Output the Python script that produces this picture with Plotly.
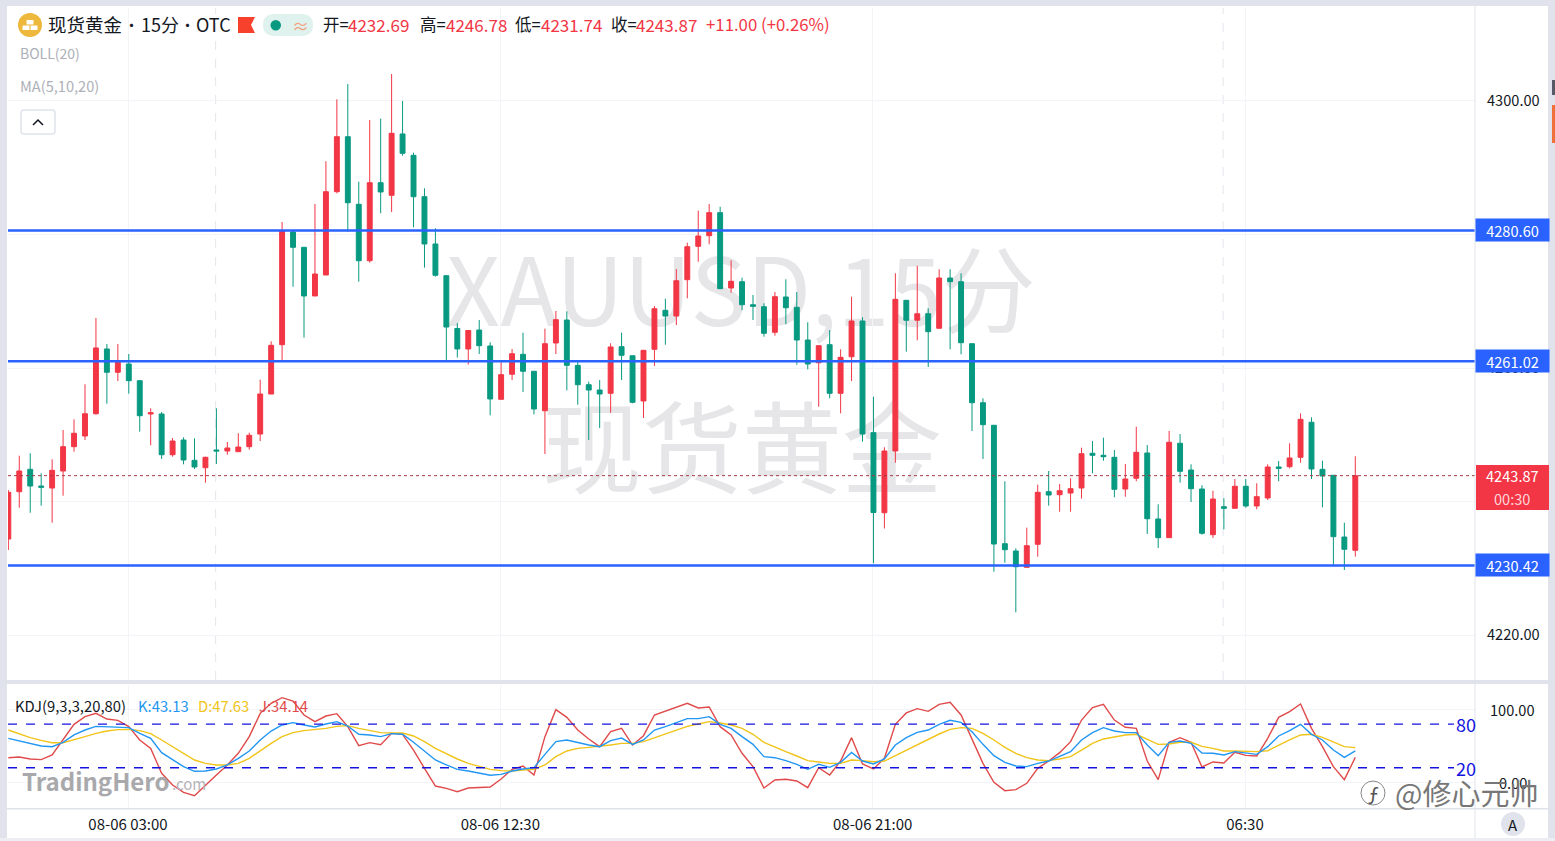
import plotly.graph_objects as go

W, H = 1555, 841
FONT = "Noto Sans CJK SC"
RED = "#F23645"
GREEN = "#089981"
BLUE = "#2962FF"
FRAME = "#E0E3EB"
GRID = "#F3F4F7"

first_bar = -11
opens = [4234.38,4241.47,4244.82,4242.32,4242.02,4244.57,4248.21,4249.81,4253.15,4262.85,
 4259.36,4260.6,4258.1,4253.11,4253.11,4247.01,4249.21,4246.17,4245.06,4247.72,
 4247.57,4247.46,4248.21,4250.11,4256.1,4263.49,4280.37,4278.08,4270.79,4273.93,
 4286.41,4294.65,4284.52,4276.07,4287.76,4285.87,4295.06,4291.86,4285.66,4278.58,
 4273.83,4265.92,4262.85,4265.69,4263.3,4255.31,4259.06,4262.05,4259.51,4253.6,
 4263.75,4267.19,4260.4,4257.5,4256.7,4256.21,4263.19,4261.84,4255.06,4262.8,
 4268.64,4267.79,4273.23,4278.23,4279.82,4283.27,4271.98,4272.93,4269.48,4269.18,
 4265.35,4270.64,4269.09,4264.19,4260.79,4263.49,4256.21,4261.69,4267.04,4250.31,
 4238.32,4247.57,4270.14,4267.16,4268.13,4265.95,4273.48,4272.93,4263.64,4254.8,
 4251.42,4233.68,4232.58,4230.14,4233.59,4241.47,4241.02,4241.27,4242.02,4247.22,
 4246.92,4246.62,4241.87,4243.48,4247.27,4237.38,4234.58,4248.72,4244.72,4241.87,
 4235.03,4239.22,4238.98,4242.28,4239.33,4240.53,4245.17,4245.21,4246.62,4251.87,
 4244.82,4243.93,4234.68,4232.69]
highs = [4241.72,4246.86,4247.22,4244.23,4246.32,4250.71,4252.31,4257.56,4267.49,4263.6,
 4263.6,4262.1,4258.1,4253.96,4253.41,4249.51,4249.62,4249.47,4246.71,4253.96,
 4248.91,4250.22,4250.31,4258.25,4264.0,4281.87,4280.57,4278.08,4284.57,4290.97,
 4300.25,4302.55,4287.91,4297.15,4297.35,4304.04,4300.0,4292.25,4286.92,4280.93,
 4273.89,4266.74,4265.69,4267.19,4263.85,4260.94,4262.85,4265.29,4259.51,4265.89,
 4268.54,4268.49,4260.94,4257.95,4258.2,4263.7,4265.29,4261.84,4262.7,4269.29,
 4270.38,4274.83,4278.77,4283.57,4284.57,4284.16,4276.13,4273.53,4270.94,4269.69,
 4271.39,4273.29,4271.39,4266.85,4263.4,4265.69,4262.8,4270.68,4267.6,4255.7,
 4248.12,4274.19,4270.19,4275.31,4268.94,4274.79,4274.79,4274.19,4263.64,4255.46,
 4251.46,4243.03,4232.99,4236.08,4242.52,4244.57,4242.62,4243.48,4248.06,4249.06,
 4249.56,4247.72,4245.62,4251.21,4248.46,4239.58,4250.56,4250.11,4245.57,4242.43,
 4241.62,4240.48,4243.37,4243.37,4242.73,4245.57,4246.07,4248.72,4253.21,4252.61,
 4246.11,4243.93,4236.82,4246.78]
lows = [4232.73,4239.07,4238.32,4239.37,4236.82,4240.87,4247.46,4249.21,4253.0,4254.65,
 4258.05,4256.15,4250.46,4248.42,4246.37,4246.71,4245.57,4244.87,4242.82,4245.62,
 4247.01,4247.46,4247.76,4249.06,4256.1,4261.09,4272.18,4264.54,4270.79,4273.93,
 4286.17,4280.42,4272.93,4275.78,4283.18,4283.37,4291.8,4281.08,4275.03,4273.68,
 4261.05,4261.57,4260.52,4262.1,4252.91,4255.31,4258.2,4256.4,4253.06,4247.12,
 4262.1,4256.66,4254.5,4249.21,4251.01,4253.3,4258.2,4254.71,4252.51,4260.3,
 4263.49,4266.44,4270.44,4275.92,4278.53,4271.88,4271.28,4268.64,4267.19,4264.69,
 4264.84,4266.55,4260.49,4259.8,4254.2,4255.46,4253.21,4258.05,4248.96,4230.74,
 4235.96,4245.81,4262.44,4264.15,4260.15,4265.95,4262.8,4262.05,4250.56,4246.37,
 4229.48,4230.83,4223.4,4230.14,4231.73,4239.37,4238.47,4238.47,4240.42,4244.23,
 4246.11,4240.63,4240.72,4243.03,4235.13,4233.03,4234.58,4242.82,4239.93,4235.03,
 4234.53,4235.83,4238.93,4239.07,4238.83,4240.22,4243.03,4244.97,4245.81,4243.37,
 4239.13,4230.38,4229.74,4231.74]
closes = [4241.38,4244.57,4242.32,4242.13,4244.67,4248.21,4250.22,4253.15,4263.0,4259.36,
 4260.85,4258.1,4252.85,4253.3,4247.01,4249.06,4246.22,4245.17,4246.62,4247.57,
 4248.02,4248.16,4249.92,4256.1,4263.4,4280.57,4278.08,4270.79,4274.08,4286.41,
 4294.65,4284.76,4276.07,4287.76,4286.37,4295.16,4292.16,4285.66,4278.58,4273.89,
 4266.14,4262.85,4265.62,4263.34,4255.36,4259.0,4262.14,4259.51,4253.86,4263.64,
 4267.24,4260.4,4257.5,4256.7,4256.1,4263.15,4261.9,4254.86,4262.65,4268.88,
 4267.79,4273.08,4278.17,4279.77,4283.27,4271.88,4272.99,4269.48,4269.24,4265.2,
 4270.68,4269.03,4264.19,4260.6,4263.34,4256.21,4261.6,4267.04,4250.11,4238.35,
 4247.57,4270.29,4267.15,4268.12,4265.44,4273.48,4272.93,4263.79,4254.8,4251.51,
 4233.63,4232.78,4230.23,4233.38,4241.38,4240.97,4241.62,4241.92,4247.16,4246.92,
 4246.71,4241.83,4243.37,4247.37,4237.42,4234.58,4248.87,4244.52,4241.92,4235.24,
 4240.37,4238.98,4242.28,4239.33,4240.72,4245.17,4244.97,4246.52,4252.31,4244.87,
 4243.82,4234.73,4232.84,4243.87]

k_values = [60.4,56.7,53.5,49.8,48.9,54.9,65.0,71.8,76.8,76.4,76.4,75.0,67.2,60.4,40.7,30.6,21.5,15.1,15.5,18.3,
 23.8,32.9,43.0,58.1,70.4,78.7,81.9,78.7,75.9,80.0,83.3,77.3,65.9,65.0,62.7,66.8,65.9,54.9,42.1,30.6,
 23.8,17.8,15.5,12.3,9.6,10.9,15.5,18.3,20.1,38.4,55.8,58.1,54.4,51.2,48.9,57.2,60.8,52.1,58.1,71.8,
 76.4,82.3,87.4,87.4,90.1,79.6,74.1,62.7,52.1,35.2,33.8,29.7,24.7,17.8,24.7,20.5,27.4,41.1,29.2,25.1,
 32.0,51.2,61.3,68.6,71.8,79.6,85.1,82.3,69.5,52.1,36.6,27.4,22.4,21.5,26.0,29.2,35.2,42.1,58.1,68.2,
 75.0,70.4,68.2,68.2,51.2,36.6,54.9,56.7,53.5,40.2,39.8,37.5,42.1,39.8,38.4,48.9,63.6,70.9,79.6,65.9,
 58.1,44.3,34.3,43.13]
d_values = [71.8,66.3,61.3,57.6,54.4,54.4,58.1,62.7,67.2,70.4,72.3,72.7,70.9,66.8,58.1,48.9,39.8,30.6,26.0,23.8,
 23.8,26.0,32.9,43.4,53.5,62.7,68.2,70.9,72.3,74.1,76.8,77.8,74.1,70.9,68.2,67.7,67.7,63.6,55.8,46.6,
 38.9,32.0,26.0,21.5,17.8,16.0,15.5,16.9,17.8,23.8,35.2,43.0,46.6,48.0,49.4,51.2,53.5,53.5,55.8,61.3,
 66.3,71.8,76.8,80.0,83.3,81.4,78.7,74.1,65.9,54.9,48.0,42.1,36.1,29.7,27.9,26.0,26.0,30.6,29.7,28.3,
 29.2,36.6,44.3,52.1,59.0,66.3,72.7,75.0,74.1,67.2,58.1,48.0,39.8,33.8,30.6,29.7,32.0,35.2,44.3,53.5,
 59.5,62.7,65.0,65.9,59.5,52.1,52.6,54.9,54.9,49.4,46.6,43.0,43.0,42.5,42.1,43.4,51.2,58.1,65.0,65.9,
 61.7,54.9,48.9,47.63]
j_values = [33.8,34.7,32.0,31.1,37.5,58.1,79.6,90.1,94.7,86.9,85.1,76.4,58.1,46.6,12.3,-3.7,-13.8,-18.4,-3.7,10.0,
 23.8,39.8,62.7,94.7,108.4,116.2,111.6,92.4,83.3,91.0,94.2,76.4,50.3,54.4,51.7,67.2,65.9,44.3,19.2,-5.1,
 -8.3,-12.9,-7.8,-7.4,-6.5,4.5,17.8,22.4,10.0,62.7,99.7,89.2,71.8,59.5,48.9,69.5,74.1,51.2,64.0,92.4,
 97.9,103.4,108.4,102.0,103.4,76.4,65.0,39.8,21.5,-7.8,3.2,4.1,1.8,-7.4,20.1,10.0,29.2,61.3,25.1,18.3,
 32.9,79.6,95.2,101.1,97.4,107.1,109.8,92.4,58.1,26.0,0.0,-11.5,-10.1,-1.4,19.2,29.2,40.7,55.8,85.5,102.5,
 107.1,85.5,75.5,74.1,29.2,3.6,54.9,61.3,54.9,21.0,27.9,26.5,41.1,37.0,36.1,60.4,89.2,97.0,107.5,74.1,
 48.9,21.5,3.6,34.14]

bars = list(range(first_bar, first_bar + len(closes)))

time_tick_bars = [0, 34, 68, 102]
time_tick_text = ["08-06 03:00", "08-06 12:30", "08-06 21:00", "06:30"]
session_bars = [8, 100]
price_ticks = [4220, 4240, 4260, 4280, 4300]
# 4240 and 4280 sit fully behind price tags in the reference
price_tick_text = ["4220.00", "", "4260.00", "", "4300.00"]
kdj_ticks = [0, 100]
kdj_tick_text = ["100.00", "0.00"]
kdj_levels = [80, 20]
level_prices = [4280.60, 4261.02, 4230.42]
last_price = 4243.87
countdown = "00:30"
ohlc_labels = ["开=", "高=", "低=", "收="]
ohlc_values = ["4232.69", "4246.78", "4231.74", "4243.87"]


def px(x):
    return x / W


def py(y):
    return 1 - y / H


LEFT, RIGHT = 8, 1475
GRID_OFFSET = -0.07  # grid and separators sit a fraction of a bar left of the candle centres
X_RANGE = [-11.03, 122.93]
grid_bars = [b + GRID_OFFSET for b in time_tick_bars]

shapes = []
annotations = []


def rect(x0, y0, x1, y1, fill, line=None, layer="above", lw=0):
    shapes.append(dict(type="rect", xref="paper", yref="paper", x0=px(x0), x1=px(x1),
                       y0=py(y0), y1=py(y1), fillcolor=fill, layer=layer,
                       line=dict(color=line or fill, width=lw)))


def label(x, y, text, size=14, color="#131722", anchor="left", **kw):
    annotations.append(dict(xref="paper", yref="paper", x=px(x), y=py(y), text=text,
                            showarrow=False, xanchor=anchor, yanchor="middle",
                            borderpad=0, borderwidth=0,
                            font=dict(family=FONT, size=size, color=color), **kw))


# watermarks behind the candles
for x0, x1, y0, y1, text, size in [(380, 1102, 235, 365, "XAUUSD,15分", 94),
                                   (480, 1004, 398, 518, "现货黄金", 100)]:
    shapes.append(dict(type="rect", xref="paper", yref="paper", x0=px(x0), x1=px(x1), y0=py(y0), y1=py(y1),
                       layer="below", line=dict(width=0), fillcolor="rgba(0,0,0,0)",
                       label=dict(text=text, textposition="middle center",
                                  font=dict(family=FONT, size=size, color="#E6E6E9"))))

# session separators
for b in session_bars:
    shapes.append(dict(type="line", xref="x", yref="paper", x0=b + GRID_OFFSET, x1=b + GRID_OFFSET, y0=py(680), y1=py(8),
                       layer="below", line=dict(color="#E4E6EB", width=1, dash="dash")))

# horizontal levels
for p in level_prices:
    shapes.append(dict(type="line", xref="paper", yref="y", x0=px(LEFT), x1=px(RIGHT), y0=p, y1=p,
                       line=dict(color=BLUE, width=2.5)))
shapes.append(dict(type="line", xref="paper", yref="y", x0=px(LEFT), x1=px(RIGHT), y0=last_price, y1=last_price,
                   line=dict(color="#A33A45", width=1, dash="dot")))
for lv in kdj_levels:
    shapes.append(dict(type="line", xref="paper", yref="y2", x0=px(LEFT), x1=px(1454), y0=lv, y1=lv,
                       line=dict(color="#1414E0", width=1.3, dash="dash")))

# chrome: outer frame and panel separators
rect(0, 0, 7, H, FRAME)
rect(1548, 0, W, H, FRAME)
rect(0, 0, W, 6, FRAME)
rect(0, 838, W, H, "#EDEEF3")
rect(7, 680, 1548, 684, FRAME)
rect(7, 808, 1548, 809.5, FRAME)
rect(1474.5, 6, 1475.5, 838, FRAME)
rect(1552, 80, W, 95, "#555A66")
rect(1552, 105, W, 143, "#F0703A")

# header
shapes.append(dict(type="circle", xref="paper", yref="paper", x0=px(18), x1=px(42), y0=py(13), y1=py(37),
                    fillcolor="#EDB83C", line=dict(width=0)))
rect(26.5, 20, 33.5, 24.5, "#FFFFFF")
rect(22.5, 25.5, 29.5, 30, "#FFFFFF")
rect(30.5, 25.5, 37.5, 30, "#FFFFFF")
label(48, 24.5, "现货黄金", size=18.5)
label(131.5, 24.5, "•", size=15, anchor="center")
label(141, 24.5, "15分", size=18)
label(187, 24.5, "•", size=15, anchor="center")
label(196, 24.5, "OTC", size=18)
shapes.append(dict(type="path", xref="paper", yref="paper",
                   path=f"M {px(238)} {py(17)} L {px(255)} {py(17)} L {px(251)} {py(25)} L {px(255)} {py(33)} L {px(238)} {py(33)} Z",
                   fillcolor="#F7412D", line=dict(width=0)))
shapes.append(dict(type="path", xref="paper", yref="paper",
                   path=f"M {px(275)} {py(14)} L {px(301)} {py(14)} Q {px(313)} {py(14)} {px(313)} {py(25)} "
                        f"Q {px(313)} {py(36)} {px(301)} {py(36)} L {px(275)} {py(36)} "
                        f"Q {px(263)} {py(36)} {px(263)} {py(25)} Q {px(263)} {py(14)} {px(275)} {py(14)} Z",
                   fillcolor="#E0F2EE", line=dict(width=0)))
shapes.append(dict(type="circle", xref="paper", yref="paper", x0=px(270.5), x1=px(281), y0=py(20), y1=py(30.5),
                    fillcolor="#089981", line=dict(width=0)))
label(300, 25, "≈", size=17, color="#F2A27E", anchor="center")

for val, xv in zip(ohlc_values, [348, 446, 541, 636]):
    label(xv, 24.5, val, size=17, color=RED)
for lab, x in zip(ohlc_labels, [323, 420, 515, 611]):
    label(x, 24.5, lab, size=16.5)
label(706, 24.5, "+11.00 (+0.26%)", size=16.8, color=RED)
label(20, 53, "BOLL(20)", size=14, color="#ADB0B8")
label(20, 86, "MA(5,10,20)", size=14.6, color="#ADB0B8")

# collapse button
shapes.append(dict(type="path", xref="paper", yref="paper",
                   path=f"M {px(24)} {py(110)} L {px(52)} {py(110)} Q {px(55)} {py(110)} {px(55)} {py(113)} "
                        f"L {px(55)} {py(131)} Q {px(55)} {py(134)} {px(52)} {py(134)} L {px(24)} {py(134)} "
                        f"Q {px(21)} {py(134)} {px(21)} {py(131)} L {px(21)} {py(113)} Q {px(21)} {py(110)} {px(24)} {py(110)} Z",
                   fillcolor="#FFFFFF", line=dict(color="#E0E3EB", width=1.5)))
shapes.append(dict(type="path", xref="paper", yref="paper",
                   path=f"M {px(33)} {py(125)} L {px(38)} {py(120)} L {px(43)} {py(125)}",
                   line=dict(color="#131722", width=1.5)))

# price tags
for p in level_prices:
    annotations.append(dict(xref="paper", yref="y", x=px(1512), y=p, text=f"{p:.2f}", showarrow=False,
                            xanchor="center", yanchor="middle", width=73, height=22, bgcolor=BLUE,
                            borderpad=0, font=dict(family=FONT, size=14.6, color="#FFFFFF")))
rect(1476, 465, 1549, 510, RED)
annotations.append(dict(xref="paper", yref="y", x=px(1512), y=last_price, text=f"{last_price:.2f}", showarrow=False,
                        xanchor="center", yanchor="middle", font=dict(family=FONT, size=14.6, color="#FFFFFF")))
label(1512, 498.5, countdown, size=14.6, color="#FFD5D9", anchor="center")

# KDJ legend and level labels
label(15, 705, "KDJ(9,3,3,20,80)", size=14.8)
label(138, 705, "K:43.13", size=14.8, color="#2196F3")
label(198, 705, "D:47.63", size=14.8, color="#F0C419")
label(259, 705, "J:34.14", size=14.8, color="#E04A4A")
for lv in kdj_levels:
    annotations.append(dict(xref="paper", yref="y2", x=px(1477), y=lv, text=str(lv), showarrow=False,
                            xanchor="right", yanchor="middle", borderpad=0,
                            font=dict(family=FONT, size=18, color="#1414E0")))
# tick labels of the KDJ axis are centred on the axis column
for v, t in zip(sorted(kdj_ticks, reverse=True), kdj_tick_text):
    annotations.append(dict(xref="paper", yref="y2", x=px(1512.5), y=v, text=t, showarrow=False,
                            xanchor="center", yanchor="middle", borderpad=0,
                            font=dict(family=FONT, size=14.6, color="#131722")))

# logo and corner marks
label(22, 780, "<b>TradingHero</b>", size=24, color="#A9A9AC")
label(172, 783, ".com", size=15, color="#B5B5B8")
shapes.append(dict(type="circle", xref="paper", yref="paper", x0=px(1361), x1=px(1385), y0=py(781), y1=py(805),
                   line=dict(color="#888888", width=1), layer="above"))
label(1373, 793, "ƒ", size=20, color="#555555", anchor="center")
label(1395, 792, "@修心元帅", size=29, color="#777777")
shapes.append(dict(type="circle", xref="paper", yref="paper", x0=px(1501), x1=px(1525), y0=py(812), y1=py(836),
                   fillcolor="#E0E3EB", line=dict(width=0)))
label(1513, 824, "A", size=15, anchor="center")

fig = go.Figure()
fig.add_trace(go.Candlestick(
    x=bars, open=opens, high=highs, low=lows, close=closes, xaxis="x", yaxis="y",
    increasing=dict(line=dict(color=RED, width=1), fillcolor=RED),
    decreasing=dict(line=dict(color=GREEN, width=1), fillcolor=GREEN),
    whiskerwidth=0, showlegend=False, hoverinfo="skip"))
for vals, col in [(j_values, "#E04A4A"), (d_values, "#F0C419"), (k_values, "#2196F3")]:
    fig.add_trace(go.Scatter(x=bars, y=vals, mode="lines", xaxis="x2", yaxis="y2",
                             line=dict(color=col, width=1.4), showlegend=False, hoverinfo="skip"))

fig.update_layout(
    width=W, height=H, margin=dict(l=0, r=0, t=0, b=0),
    paper_bgcolor="#FFFFFF", plot_bgcolor="rgba(0,0,0,0)", showlegend=False, boxgap=0.36,
    font=dict(family=FONT, color="#131722", size=14),
    shapes=shapes, annotations=annotations,
    xaxis=dict(domain=[px(LEFT), px(RIGHT)], range=X_RANGE, anchor="y", rangeslider=dict(visible=False),
               tickvals=grid_bars, showticklabels=False, showgrid=True, gridcolor=GRID, zeroline=False,
               ticks="", showline=False),
    xaxis2=dict(domain=[px(LEFT), px(RIGHT)], range=X_RANGE, anchor="y2",
                tickvals=grid_bars, ticktext=time_tick_text, showgrid=True, gridcolor=GRID, zeroline=False,
                ticks="", showline=False, ticklabelstandoff=6, tickfont=dict(family=FONT, size=15, color="#131722")),
    yaxis=dict(domain=[py(680), py(8)], range=[4213.26, 4313.93], side="right", anchor="x",
               tickvals=price_ticks, ticktext=price_tick_text, showgrid=True, gridcolor=GRID, zeroline=False,
               ticks="", showline=False, ticklabelstandoff=11, tickfont=dict(family=FONT, size=14.6, color="#131722")),
    yaxis2=dict(domain=[py(808), py(685)], range=[-35.3, 133.6], side="right", anchor="x2",
                tickvals=kdj_ticks, showticklabels=False, showgrid=True, gridcolor=GRID, zeroline=False,
                ticks="", showline=False),
)

fig.write_html("out.html", config={"displayModeBar": False}, post_script="document.body.style.margin='0';")
